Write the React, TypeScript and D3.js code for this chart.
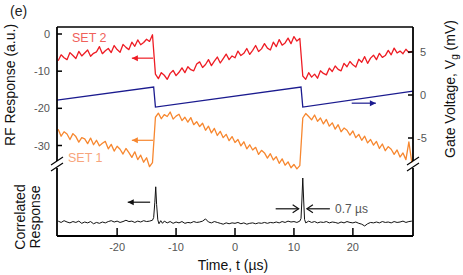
import React from "react";
import * as d3 from "d3";

const timeAxis = [
  -30, -29.5, -29, -28.5, -28, -27.5, -27, -26.5, -26, -25.5, -25, -24.5, -24, -23.5, -23, -22.5, -22, -21.5, -21, -20.5,
  -20, -19.5, -19, -18.5, -18, -17.5, -17, -16.5, -16, -15.5, -15, -14.5, -14, -13.5, -13, -12.5, -12, -11.5, -11, -10.5,
  -10, -9.5, -9, -8.5, -8, -7.5, -7, -6.5, -6, -5.5, -5, -4.5, -4, -3.5, -3, -2.5, -2, -1.5, -1, -0.5,
  0, 0.5, 1, 1.5, 2, 2.5, 3, 3.5, 4, 4.5, 5, 5.5, 6, 6.5, 7, 7.5, 8, 8.5, 9, 9.5,
  10, 10.5, 11, 11.5, 12, 12.5, 13, 13.5, 14, 14.5, 15, 15.5, 16, 16.5, 17, 17.5, 18, 18.5, 19, 19.5,
  20, 20.5, 21, 21.5, 22, 22.5, 23, 23.5, 24, 24.5, 25, 25.5, 26, 26.5, 27, 27.5, 28, 28.5, 29, 29.5, 30,
];

const set2 = [
  -7.2, -5.6, -6.4, -6.9, -5.0, -5.8, -6.6, -4.7, -5.9, -5.1, -4.3, -6.0, -5.2, -4.8, -3.4, -5.3, -4.5, -3.9, -5.0, -3.1,
  -4.2, -4.9, -2.8, -3.6, -4.2, -2.2, -3.3, -1.6, -2.9, -2.3, -1.4, -2.0, -0.2,
  -10.8, -12.0, -10.4, -11.1, -12.2, -10.6, -9.8, -11.2, -10.3, -9.1,
  -10.4, -8.8, -9.6, -9.9, -8.1, -7.5, -9.0, -8.2, -6.9, -8.5,
  -7.3, -6.2, -7.8, -6.6, -5.4, -6.9, -5.9, -6.4, -4.6, -5.8,
  -5.2, -3.9, -5.5, -4.4, -3.1, -4.7, -4.0, -2.6, -3.8, -4.3,
  -2.2, -3.4, -1.5, -3.0, -2.4, -1.1, -2.6, -0.7, -1.9, -1.2,
  -11.3, -12.2, -10.4, -11.6, -10.8, -11.9, -9.9, -10.6, -11.0, -9.2,
  -10.1, -8.6, -9.5, -9.9, -7.9, -8.8, -7.4, -8.3, -8.9, -6.8,
  -7.6, -6.1, -7.9, -6.5, -5.7, -6.9, -5.2, -6.3, -5.8, -4.4,
  -5.6, -3.8, -5.1, -4.6, -5.3, -4.1, -5.0, -4.7,
];

const set1 = [
  -25.6, -27.5, -26.3, -26.9, -28.4, -26.8, -27.6, -29.1, -27.9, -28.2,
  -29.5, -28.0, -29.8, -28.6, -30.1, -29.4, -28.9, -30.9, -29.7, -31.5,
  -30.2, -31.0, -32.3, -30.8, -31.9, -33.2, -31.7, -33.8, -32.6, -34.5,
  -33.3, -35.7, -34.6,
  -22.4, -21.3, -22.8, -21.7, -22.2, -21.0, -22.9, -22.1, -21.6, -23.3,
  -22.4, -23.7, -22.5, -24.4, -23.6, -24.9, -24.0, -25.9, -24.8, -26.6,
  -25.4, -27.3, -26.2, -27.9, -27.0, -28.7, -27.6, -29.2, -28.4, -30.1,
  -29.0, -30.9, -29.8, -31.2, -30.5, -32.4, -31.3, -32.0, -33.4, -32.2,
  -33.9, -33.0, -34.8, -33.6, -35.3, -34.4, -36.0, -35.1, -36.3, -35.4,
  -22.6, -21.4, -22.2, -23.1, -21.8, -23.5, -22.6, -24.2, -23.0, -24.8,
  -23.9, -25.6, -24.4, -26.3, -25.3, -25.9, -27.2, -26.1, -27.9, -27.0,
  -28.6, -27.5, -29.3, -28.4, -29.9, -28.9, -30.8, -29.6, -31.4, -30.3,
  -31.0, -32.4, -31.2, -33.1, -32.0, -33.8, -29.0, -34.6,
];

const gateTime = [-30.2, -13.8, -13.5, 11.2, 11.5, 30.2];
const gateVolt = [-0.6, 0.93, -1.4, 0.93, -1.4, 0.45];

const corrTime = [
  -30, -29.5, -29, -28.5, -28, -27.5, -27, -26.5, -26, -25.5, -25, -24.5, -24, -23.5, -23, -22.5, -22, -21.5, -21, -20.5,
  -20, -19.5, -19, -18.5, -18, -17.5, -17, -16.5, -16, -15.5, -15, -14.5, -14, -13.8, -13.6, -13.45, -13.3, -13.1, -12.9, -12.6,
  -12.3, -12, -11.5, -11, -10.5, -10, -9.5, -9, -8.5, -8, -7.5, -7, -6.5, -6, -5.5, -5, -4.5, -4, -3.5, -3,
  -2.5, -2, -1.5, -1, -0.5, 0, 0.5, 1, 1.5, 2, 2.5, 3, 3.5, 4, 4.5, 5, 5.5, 6, 6.5, 7,
  7.5, 8, 8.5, 9, 9.5, 10, 10.5, 11, 11.2, 11.35, 11.5, 11.65, 11.8, 12, 12.5, 13, 13.5, 14, 14.5, 15,
  15.5, 16, 16.5, 17, 17.5, 18, 18.5, 19, 19.5, 20, 20.5, 21, 21.5, 22, 22.5, 23, 23.5, 24, 24.5, 25,
  25.5, 26, 26.5, 27, 27.5, 28, 28.5, 29, 29.5, 30,
];
const corrValue = [
  0.02, -0.01, 0.03, 0.0, -0.02, 0.01, -0.01, 0.02, -0.03, 0.0, -0.02, 0.01, -0.04, -0.01, -0.03, 0.0, -0.02, 0.01, 0.03, 0.0,
  0.02, -0.01, 0.01, 0.04, 0.01, 0.02, -0.01, 0.02, 0.0, 0.03, 0.01, 0.02, 0.04, 0.1, 0.45, 0.8, 0.4, 0.05, -0.04, 0.03,
  -0.03, 0.02, -0.02, 0.01, -0.03, 0.0, -0.02, 0.01, -0.03, -0.01, -0.02, 0.01, -0.01, 0.0, 0.02, 0.07, 0.0, -0.02, 0.01, -0.01,
  -0.03, -0.05, -0.02, -0.04, -0.02, -0.03, -0.01, -0.04, -0.02, -0.05, -0.03, -0.02, -0.04, -0.02, -0.03, -0.01, -0.03, -0.01, -0.02, 0.0,
  -0.02, 0.01, -0.01, 0.02, 0.0, 0.01, -0.01, 0.02, 0.08, 0.5, 1.0, 0.5, 0.06, -0.02, 0.02, -0.01, 0.01, -0.02, 0.0, -0.01,
  0.01, -0.02, 0.0, -0.01, -0.03, 0.0, -0.02, 0.01, -0.01, -0.02, 0.0, -0.03, -0.05, -0.09, -0.04, -0.01, -0.02, 0.0, -0.02, 0.01,
  -0.01, 0.0, -0.02, 0.01, -0.01, 0.0, 0.02, -0.01, 0.01, 0.02,
];

const xTicks = [-20, -10, 0, 10, 20];
const leftTicks = [0, -10, -20, -30];
const rightTicks = [5, 0, -5];

const FONT = "'Liberation Sans', Arial, sans-serif";

export default function App() {
  const L = 57, R = 413, T = 27, B = 236;
  const x = d3.scaleLinear().domain([-30.2, 30.2]).range([L, R]);
  const yL = d3.scaleLinear().domain([0, -30]).range([34, 145.5]);
  const yR = d3.scaleLinear().domain([5, -5]).range([52, 138]);
  const yC = d3.scaleLinear().domain([0, 1]).range([222, 178]);

  const lineL = d3.line<number>().x((_, i) => x(timeAxis[i])).y((d) => yL(d));
  const lineG = d3.line<number>().x((_, i) => x(gateTime[i])).y((d) => yR(d));
  const lineC = d3.line<number>().x((_, i) => x(corrTime[i])).y((d) => yC(d));

  const arrow = (x1: number, x2: number, y: number, color: string, headAt: "start" | "end", open = false) => {
    const hx = headAt === "start" ? x1 : x2;
    const dir = headAt === "start" ? 1 : -1;
    const hl = 6, hw = 3;
    return (
      <g>
        <line x1={x1} x2={x2} y1={y} y2={y} stroke={color} strokeWidth={1.2} />
        {open ? (
          <path d={`M${hx + dir * hl},${y - hw - 1}L${hx},${y}L${hx + dir * hl},${y + hw + 1}`} fill="none" stroke={color} strokeWidth={1.2} />
        ) : (
          <path d={`M${hx},${y}L${hx + dir * hl},${y - hw}L${hx + dir * hl},${y + hw}Z`} fill={color} />
        )}
      </g>
    );
  };

  const tickColor = "#555";
  return (
    <svg width={463} height={275} style={{ display: "block", position: "absolute", left: 0, top: 0, background: "#fff" }} fontFamily={FONT}>
      <rect x={0} y={0} width={463} height={275} fill="#fff" />
      <text x={10} y={16} fontSize={14} fill="#222">(e)</text>

      {/* data lines */}
      <path d={lineL(set2) || ""} fill="none" stroke="#ee1c24" strokeWidth={1.3} strokeLinejoin="round" />
      <path d={lineL(set1) || ""} fill="none" stroke="#f7872f" strokeWidth={1.3} strokeLinejoin="round" />
      <path d={lineG(gateVolt) || ""} fill="none" stroke="#1b1b8f" strokeWidth={1.3} />
      <path d={lineC(corrValue) || ""} fill="none" stroke="#111" strokeWidth={1} />

      {/* frame */}
      <line x1={L} x2={R} y1={T} y2={T} stroke="#000" strokeWidth={1.5} />
      <line x1={L} x2={R} y1={B} y2={B} stroke="#000" strokeWidth={1.8} />
      <line x1={L} x2={L} y1={T} y2={161} stroke="#000" strokeWidth={1.8} />
      <line x1={L} x2={L} y1={168} y2={B} stroke="#000" strokeWidth={1.8} />
      <line x1={R} x2={R} y1={T} y2={161} stroke="#000" strokeWidth={1.8} />
      <line x1={R} x2={R} y1={168} y2={B} stroke="#000" strokeWidth={1.8} />
      {[L, R].map((bx) => (
        <g key={bx}>
          <line x1={bx - 6} x2={bx + 6} y1={165} y2={157} stroke="#000" strokeWidth={1.2} />
          <line x1={bx - 6} x2={bx + 6} y1={171} y2={163} stroke="#000" strokeWidth={1.2} />
        </g>
      ))}

      {/* ticks */}
      {leftTicks.map((t) => (
        <g key={"l" + t}>
          <line x1={L} x2={L + 5} y1={yL(t)} y2={yL(t)} stroke="#000" strokeWidth={1.5} />
          <text x={50} y={yL(t) + 4} fontSize={11} textAnchor="end" fill={tickColor}>{t === 0 ? "0" : "-" + Math.abs(t)}</text>
        </g>
      ))}
      {rightTicks.map((t) => (
        <g key={"r" + t}>
          <line x1={R - 5} x2={R} y1={yR(t)} y2={yR(t)} stroke="#000" strokeWidth={1.5} />
          <text x={t < 0 ? 417 : 420} y={yR(t) + 4} fontSize={11} fill={tickColor}>{t < 0 ? "-" + Math.abs(t) : String(t)}</text>
        </g>
      ))}
      {xTicks.map((t) => (
        <g key={"x" + t}>
          <line x1={x(t)} x2={x(t)} y1={B - 8} y2={B} stroke="#000" strokeWidth={1.5} />
          <text x={x(t)} y={251} fontSize={11} textAnchor="middle" fill={tickColor}>{t < 0 ? "-" + Math.abs(t) : String(t)}</text>
        </g>
      ))}

      {/* axis titles */}
      <text transform="translate(15,85) rotate(-90)" fontSize={14} textAnchor="middle" fill="#111">RF Response (a.u.)</text>
      <text transform="translate(25,217) rotate(-90)" fontSize={14} textAnchor="middle" fill="#111">Correlated</text>
      <text transform="translate(40,217) rotate(-90)" fontSize={14} textAnchor="middle" fill="#111">Response</text>
      <text transform="translate(455,89) rotate(-90)" fontSize={14} textAnchor="middle" fill="#111">
        Gate Voltage, V<tspan fontSize={10} dy={3}>g</tspan><tspan dy={-3}> (mV)</tspan>
      </text>
      <text x={233} y={270} fontSize={14} textAnchor="middle" fill="#111">Time, t (µs)</text>

      {/* labels */}
      <text x={72} y={42} fontSize={12.5} fill="#f0605a">SET 2</text>
      <text x={68} y={162} fontSize={12.5} fill="#f7a57c">SET 1</text>

      {/* arrows */}
      {arrow(x(-17.5), x(-13.9), yL(-6.5), "#ee1c24", "start")}
      {arrow(x(-17.5), x(-13.9), yL(-28.6), "#f7872f", "start")}
      {arrow(x(19.8), x(23.9), yR(-0.95), "#1b1b8f", "end")}
      {arrow(x(-18.2), x(-14.4), yC(0.45), "#111", "start")}
      {arrow(x(6.9), x(10.8), yC(0.3), "#111", "end", true)}
      {arrow(x(12.2), x(16.1), yC(0.3), "#111", "start", true)}
      <text x={335} y={213} fontSize={12} fill={tickColor}>0.7 µs</text>
    </svg>
  );
}
